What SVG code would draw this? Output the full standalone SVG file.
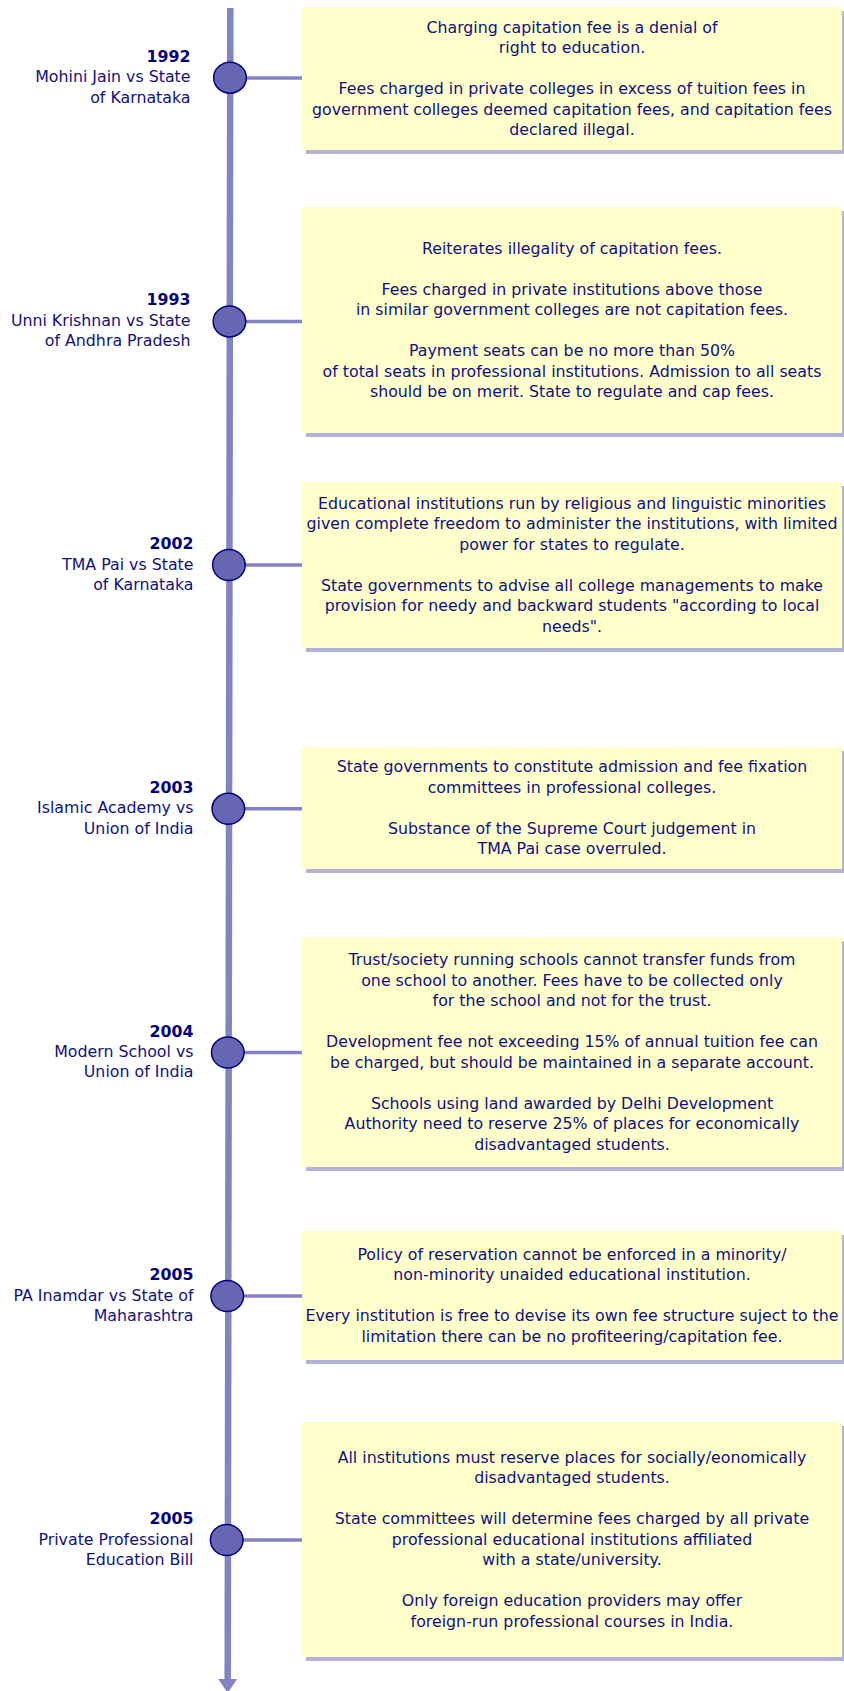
<svg xmlns="http://www.w3.org/2000/svg" width="844" height="1691" viewBox="0 0 844 1691">
<style>
text{font-family:"DejaVu Sans",Verdana,sans-serif;font-size:15.8px;fill:#10107f}
.box text{text-anchor:middle}
.lbl{text-anchor:end}
.yr{font-weight:bold;fill:#000080}
.card{fill:#ffffcc}
.shadow{fill:#b2b2da}
.dot{fill:#6666b3;stroke:#000080;stroke-width:1.5}
.axis{stroke:#8383c3;stroke-width:6.5;fill:none}
.stub{stroke:#8383c3;stroke-width:3.5;fill:none}
</style>
<rect width="844" height="1691" fill="#ffffff"/>
<g id="connectors">
<line class="axis" x1="230.3" y1="8" x2="227.7" y2="1681"/>
<polygon points="218.2,1679 237.2,1679 227.7,1693" fill="#8383c3"/>
<line class="stub" x1="240" y1="78" x2="303" y2="78"/>
<line class="stub" x1="240" y1="321.4" x2="303" y2="321.4"/>
<line class="stub" x1="240" y1="565" x2="303" y2="565"/>
<line class="stub" x1="240" y1="808.8" x2="303" y2="808.8"/>
<line class="stub" x1="240" y1="1052.5" x2="303" y2="1052.5"/>
<line class="stub" x1="240" y1="1296" x2="303" y2="1296"/>
<line class="stub" x1="240" y1="1540" x2="303" y2="1540"/>
</g>
<g id="e1992">
<text class="lbl yr" x="190.5" y="61.7">1992</text>
<text class="lbl" x="190.5" y="82.3">Mohini Jain vs State</text>
<text class="lbl" x="190.5" y="102.6">of Karnataka</text>
<ellipse class="dot" cx="230" cy="77.7" rx="16.3" ry="15.5"/>
<g class="box"><rect class="shadow" x="306" y="11" width="540" height="143"/><rect class="card" x="302" y="7" width="540" height="143"/>
<text x="572" y="32.6">Charging capitation fee is a denial of</text>
<text x="572" y="53.1">right to education.</text>
<text x="572" y="94.1">Fees charged in private colleges in excess of tuition fees in</text>
<text x="572" y="114.6">government colleges deemed capitation fees, and capitation fees</text>
<text x="572" y="135.1">declared illegal.</text></g>
</g>
<g id="e1993">
<text class="lbl yr" x="190.5" y="305.4">1993</text>
<text class="lbl" x="190.5" y="326">Unni Krishnan vs State</text>
<text class="lbl" x="190.5" y="346.3">of Andhra Pradesh</text>
<ellipse class="dot" cx="229.45" cy="321.4" rx="16.3" ry="15.5"/>
<g class="box"><rect class="shadow" x="306" y="211" width="540" height="226"/><rect class="card" x="302" y="207" width="540" height="226"/>
<text x="572" y="253.6">Reiterates illegality of capitation fees.</text>
<text x="572" y="294.6">Fees charged in private institutions above those</text>
<text x="572" y="315.1">in similar government colleges are not capitation fees.</text>
<text x="572" y="356.1">Payment seats can be no more than 50%</text>
<text x="572" y="376.6">of total seats in professional institutions. Admission to all seats</text>
<text x="572" y="397.1">should be on merit. State to regulate and cap fees.</text></g>
</g>
<g id="e2002">
<text class="lbl yr" x="193.5" y="549">2002</text>
<text class="lbl" x="193.5" y="569.6">TMA Pai vs State</text>
<text class="lbl" x="193.5" y="589.9">of Karnataka</text>
<ellipse class="dot" cx="228.9" cy="565" rx="16.3" ry="15.5"/>
<g class="box"><rect class="shadow" x="306" y="486" width="540" height="166"/><rect class="card" x="302" y="482" width="540" height="166"/>
<text x="572" y="508.8">Educational institutions run by religious and linguistic minorities</text>
<text x="572" y="529.3">given complete freedom to administer the institutions, with limited</text>
<text x="572" y="549.8">power for states to regulate.</text>
<text x="572" y="590.8">State governments to advise all college managements to make</text>
<text x="572" y="611.3">provision for needy and backward students "according to local</text>
<text x="572" y="631.8">needs".</text></g>
</g>
<g id="e2003">
<text class="lbl yr" x="193.5" y="792.8">2003</text>
<text class="lbl" x="193.5" y="813.4">Islamic Academy vs</text>
<text class="lbl" x="193.5" y="833.7">Union of India</text>
<ellipse class="dot" cx="228.35" cy="808.8" rx="16.3" ry="15.5"/>
<g class="box"><rect class="shadow" x="306" y="751" width="540" height="122"/><rect class="card" x="302" y="747" width="540" height="122"/>
<text x="572" y="772.3">State governments to constitute admission and fee fixation</text>
<text x="572" y="792.8">committees in professional colleges.</text>
<text x="572" y="833.8">Substance of the Supreme Court judgement in</text>
<text x="572" y="854.3">TMA Pai case overruled.</text></g>
</g>
<g id="e2004">
<text class="lbl yr" x="193.5" y="1036.5">2004</text>
<text class="lbl" x="193.5" y="1057.1">Modern School vs</text>
<text class="lbl" x="193.5" y="1077.4">Union of India</text>
<ellipse class="dot" cx="227.8" cy="1052.5" rx="16.3" ry="15.5"/>
<g class="box"><rect class="shadow" x="306" y="941" width="540" height="230"/><rect class="card" x="302" y="937" width="540" height="230"/>
<text x="572" y="965.1">Trust/society running schools cannot transfer funds from</text>
<text x="572" y="985.6">one school to another. Fees have to be collected only</text>
<text x="572" y="1006.1">for the school and not for the trust.</text>
<text x="572" y="1047.1">Development fee not exceeding 15% of annual tuition fee can</text>
<text x="572" y="1067.6">be charged, but should be maintained in a separate account.</text>
<text x="572" y="1108.6">Schools using land awarded by Delhi Development</text>
<text x="572" y="1129.1">Authority need to reserve 25% of places for economically</text>
<text x="572" y="1149.6">disadvantaged students.</text></g>
</g>
<g id="e2005a">
<text class="lbl yr" x="193.5" y="1280">2005</text>
<text class="lbl" x="193.5" y="1300.6">PA Inamdar vs State of</text>
<text class="lbl" x="193.5" y="1320.9">Maharashtra</text>
<ellipse class="dot" cx="227.25" cy="1296" rx="16.3" ry="15.5"/>
<g class="box"><rect class="shadow" x="306" y="1235" width="540" height="129"/><rect class="card" x="302" y="1231" width="540" height="129"/>
<text x="572" y="1259.8">Policy of reservation cannot be enforced in a minority/</text>
<text x="572" y="1280.3">non-minority unaided educational institution.</text>
<text x="572" y="1321.3">Every institution is free to devise its own fee structure suject to the</text>
<text x="572" y="1341.8">limitation there can be no profiteering/capitation fee.</text></g>
</g>
<g id="e2005b">
<text class="lbl yr" x="193.5" y="1524">2005</text>
<text class="lbl" x="193.5" y="1544.6">Private Professional</text>
<text class="lbl" x="193.5" y="1564.9">Education Bill</text>
<ellipse class="dot" cx="226.7" cy="1540" rx="16.3" ry="15.5"/>
<g class="box"><rect class="shadow" x="306" y="1426" width="540" height="235"/><rect class="card" x="302" y="1422" width="540" height="235"/>
<text x="572" y="1462.8">All institutions must reserve places for socially/eonomically</text>
<text x="572" y="1483.3">disadvantaged students.</text>
<text x="572" y="1524.3">State committees will determine fees charged by all private</text>
<text x="572" y="1544.8">professional educational institutions affiliated</text>
<text x="572" y="1565.3">with a state/university.</text>
<text x="572" y="1606.3">Only foreign education providers may offer</text>
<text x="572" y="1626.8">foreign-run professional courses in India.</text></g>
</g>
</svg>
